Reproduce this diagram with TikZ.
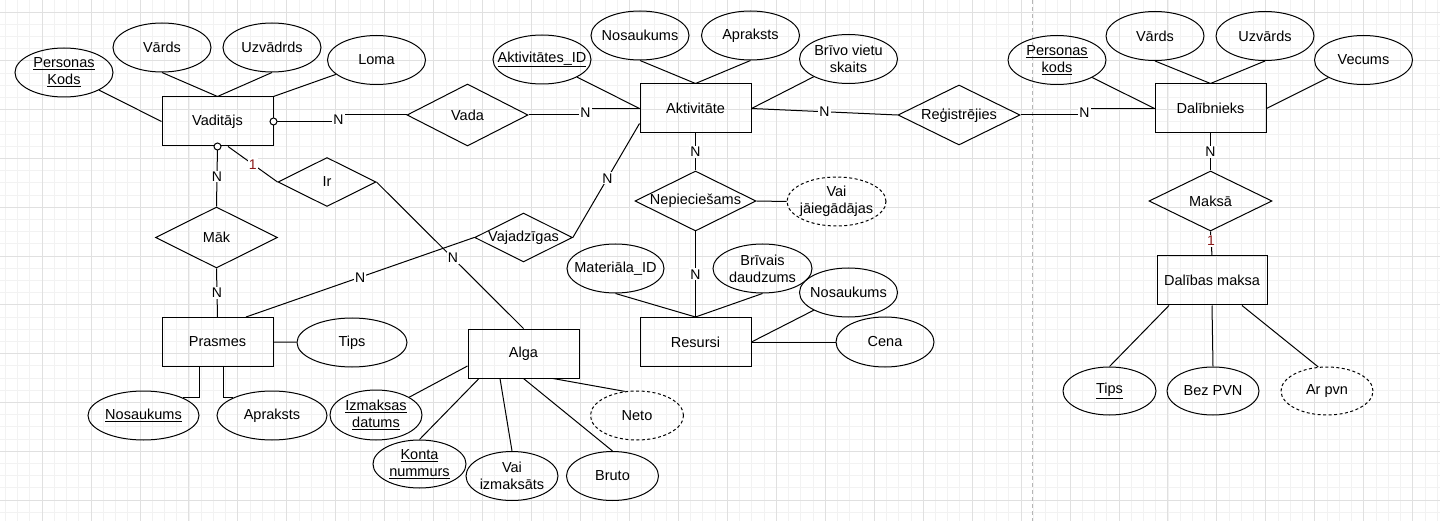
\documentclass[tikz,border=0pt]{standalone}
\usepackage{fontspec}
\setmainfont{Liberation Sans}
\usetikzlibrary{shapes.geometric,arrows.meta}
\definecolor{gridminor}{HTML}{F2F2F2}
\definecolor{gridmajor}{HTML}{E0E0E0}
\definecolor{sepline}{HTML}{B5B5B5}
\definecolor{onecolor}{HTML}{8B1A1A}

\begin{document}
\begin{tikzpicture}[x=1pt,y=-1pt,
    font=\fontsize{14.5}{17}\selectfont,
    entity/.style={draw, line width=1pt, rectangle, minimum width=111pt, minimum height=49pt, inner sep=0pt},
    attr/.style={draw, line width=1pt, ellipse, minimum width=98pt, minimum height=49pt, inner xsep=-25pt, inner ysep=-12pt, align=center},
    derived/.style={attr, dash pattern=on 3pt off 2.5pt},
    rel/.style={draw, line width=1pt, diamond, aspect=2, minimum width=121pt, minimum height=61pt, inner sep=0pt},
    card/.style={fill=white, inner sep=1pt, font=\fontsize{14}{15}\selectfont},
    one/.style={card, text=onecolor},
    opt/.style={{Circle[fill=white,length=8pt]}-, shorten <=-4pt}]

  \fill[white] (0,0) rectangle (1440,521);
  \useasboundingbox (0,0) rectangle (1440,521);
  \foreach \i in {0,...,117}
    \draw[gridminor, line width=0.7pt] ({5.3+12.2375*\i},0) -- ++(0,521);
  \foreach \i in {0,...,43}
    \draw[gridminor, line width=0.7pt] (0,{-0.2+12.2*\i}) -- ++(1440,0);
  \foreach \i in {0,...,30}
    \draw[gridmajor, line width=0.8pt] ({-6.95+48.95*\i},0) -- ++(0,521);
  \foreach \i in {0,...,10}
    \draw[gridmajor, line width=0.8pt] (0,{12+48.8*\i}) -- ++(1440,0);
  \draw[sepline, line width=0.8pt, dash pattern=on 4pt off 3pt] (1032,0) -- (1032,521);

  \draw
    (217.5,121.5) node[entity] (vaditajs) {Vaditājs}
    (695.5,108.5) node[entity] (akt) {Aktivitāte}
    (1210.5,108.5) node[entity] (dal) {Dalībnieks}
    (217.5,342) node[entity] (pras) {Prasmes}
    (523.5,353.5) node[entity] (alga) {Alga}
    (695.5,342) node[entity] (res) {Resursi}
    (1212,280.5) node[entity, minimum width=110pt] (dm) {Dalības maksa}
    (467.5,115) node[rel, minimum height=62pt] (vada) {Vada}
    (959,115) node[rel, minimum width=122pt, minimum height=60pt] (reg) {Reģistrējies}
    (216.5,237.5) node[rel, minimum width=122pt] (mak) {Māk}
    (327,182) node[rel, minimum width=98pt, minimum height=49pt] (ir) {Ir}
    (523.5,237.5) node[rel, minimum width=97pt, minimum height=49pt] (vaj) {Vajadzīgas}
    (695.5,201) node[rel, minimum height=60pt] (nep) {Nepieciešams}
    (1210.5,201) node[rel, minimum width=123pt, minimum height=60pt] (maksa) {Maksā}
    (64,72.5) node[attr] (pkv) {\underline{Personas}\\\underline{Kods}}
    (162,47.5) node[attr] (vardsv) {Vārds}
    (272,47.5) node[attr] (uzvv) {Uzvādrds}
    (376.5,60) node[attr] (loma) {Loma}
    (542,59.5) node[attr] (aktid) {\underline{Aktivitātes\_ID}}
    (640,35.5) node[attr] (aktnos) {Nosaukums}
    (750.5,35.5) node[attr] (aktapr) {Apraksts}
    (848.5,59) node[attr] (brivo) {Brīvo vietu\\skaits}
    (1057,60) node[attr] (pkd) {\underline{Personas}\\\underline{kods}}
    (1155,36) node[attr] (vardsd) {Vārds}
    (1265,36) node[attr] (uzvd) {Uzvārds}
    (1363.5,60) node[attr] (vecums) {Vecums}
    (836.5,201.5) node[derived, minimum width=99pt] (vaij) {Vai\\jāiegādājas}
    (615.5,268.5) node[attr, minimum width=97pt] (matid) {Materiāla\_ID}
    (762.5,268.5) node[attr, minimum width=99pt] (brivais) {Brīvais\\daudzums}
    (848.5,292.5) node[attr] (resnos) {Nosaukums}
    (885,342) node[attr, minimum height=50pt] (cena) {Cena}
    (352,342.5) node[attr, minimum width=110pt] (prtips) {Tips}
    (143.5,415.5) node[attr, minimum width=111pt] (prnos) {\underline{Nosaukums}}
    (272,415.5) node[attr, minimum width=110pt] (prapr) {Apraksts}
    (376,415) node[attr, minimum width=92pt, minimum height=50pt] (izm) {\underline{Izmaksas}\\\underline{datums}}
    (419.5,464) node[attr, minimum width=93pt, minimum height=48pt] (konta) {\underline{Konta}\\\underline{nummurs}}
    (512,476) node[attr, minimum width=92pt] (vaiizm) {Vai\\izmaksāts}
    (612.5,476) node[attr, minimum width=92pt] (bruto) {Bruto}
    (637,415.5) node[derived, minimum width=93pt] (neto) {Neto}
    (1109.5,391) node[attr, minimum width=93pt, minimum height=48pt] (dmtips) {\underline{Tips}}
    (1213,391) node[attr, minimum width=92pt, minimum height=48pt] (bezpvn) {Bez PVN}
    (1327,391) node[derived, minimum width=92pt, minimum height=48pt] (arpvn) {Ar pvn};

  \begin{scope}[line width=1pt]
    \draw (pkv) -- (vaditajs.west);
    \draw (vardsv.south) -- (vaditajs.north);
    \draw (uzvv.south) -- (vaditajs.north);
    \draw (loma) -- (vaditajs.north east);
    \draw[opt] (vaditajs.east) -- ++(65,0) node[card, yshift=2pt] {N} |- (vada.west);
    \draw (vada.east) -- ++(57,0) node[card, yshift=2pt] {N} |- (akt.west);
    \draw (aktid) -- (akt.west);
    \draw (aktnos.south) -- (akt.north);
    \draw (aktapr.south) -- (akt.north);
    \draw (brivo) -- (akt.east);
    \draw (akt.east) -- node[card] {N} (reg.west);
    \draw (reg.east) -- ++(64,0) node[card, yshift=2pt] {N} |- (dal.west);
    \draw (pkd) -- (dal.west);
    \draw (vardsd.south) -- (dal.north);
    \draw (uzvd.south) -- (dal.north);
    \draw (vecums) -- (dal.east);
    \draw (dal.south) -- node[card] {N} (maksa.north);
    \draw (maksa.south) -- node[one, pos=0.4] {1} (dm.north);
    \draw ([xshift=-43pt]dm.south) -- (dmtips.north);
    \draw (dm.south) -- (bezpvn.north);
    \draw ([xshift=30pt]dm.south) -- (arpvn.110);
    \draw (akt.south) -- node[card] {N} (nep.north);
    \draw (nep.east) -- (vaij.west);
    \draw (nep.south) -- node[card] {N} (res.north);
    \draw (matid.south) -- (res.north);
    \draw (brivais.south) -- (res.north);
    \draw (resnos) -- (res.east);
    \draw (res.east) -- (cena);
    \draw (vaj.east) -- node[card, pos=0.52] {N} (akt.195);
    \draw (vaj.west) -- node[card] {N} ([xshift=28.5pt]pras.north);
    \draw[opt] (vaditajs.south) -- node[card] {N} (mak.north);
    \draw ([xshift=10.5pt]vaditajs.south) -- node[one] {1} (ir.west);
    \draw (ir.east) -- node[card, pos=0.52] {N} (alga.north);
    \draw (mak.south) -- node[card] {N} (pras.north);
    \draw (pras.east) -- (prtips);
    \draw ([xshift=-18.5pt]pras.south) |- (prnos.24);
    \draw ([xshift=5.5pt]pras.south) |- (prapr.156);
    \draw (izm) -- ([yshift=-12.5pt]alga.west);
    \draw ([xshift=-44.5pt]alga.south) -- (konta.north);
    \draw ([xshift=-23.5pt]alga.south) -- (vaiizm.north);
    \draw (alga.south) -- (bruto.north);
    \draw ([xshift=29.5pt]alga.south) -- (neto.117);
  \end{scope}
\end{tikzpicture}
\end{document}
